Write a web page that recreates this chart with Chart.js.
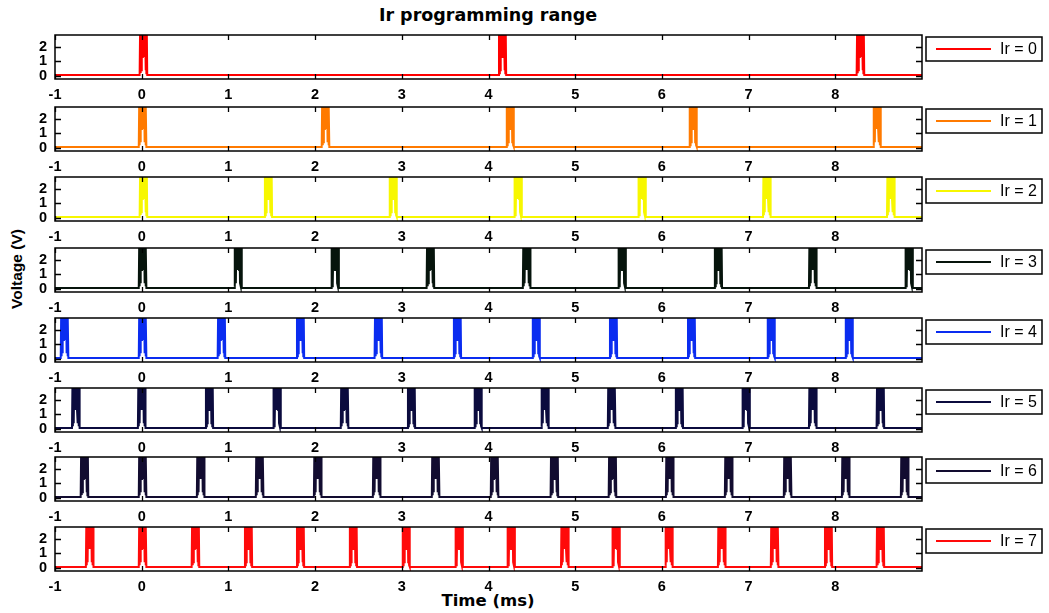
<!DOCTYPE html>
<html>
<head>
<meta charset="utf-8">
<script src="https://cdn.jsdelivr.net/npm/chart.js@4.4.1/dist/chart.umd.min.js"></script>
<style>
  body { margin: 0; background: #fff; }
  #page { position: relative; width: 1049px; height: 613px; overflow: hidden; background: #fff; }
  .panel { position: absolute; left: 0; }
  #title { position: absolute; left: 0; width: 976px; top: 5px; text-align: center;
    font: bold 17.5px "DejaVu Sans", sans-serif; color: #000; }
  #xlab { position: absolute; left: 0; width: 976px; top: 591px; text-align: center;
    font: bold 16.5px "DejaVu Sans", sans-serif; color: #000; }
  #ylab { position: absolute; left: 17px; top: 269px; transform: translate(-50%, -50%) rotate(-90deg);
    font: bold 15.5px "Liberation Sans", Arial, sans-serif; color: #000; white-space: nowrap; }
</style>
</head>
<body>
<div id="page">
  <div id="title">Ir programming range</div>
  <div id="ylab">Voltage (V)</div>
  <div id="xlab">Time (ms)</div>
</div>
<script>
// axis ticks
const xTicks = [-1, 0, 1, 2, 3, 4, 5, 6, 7, 8];
const yTicks = [0, 1, 2];

// series names and colours
const seriesNames = ['Ir = 0', 'Ir = 1', 'Ir = 2', 'Ir = 3', 'Ir = 4', 'Ir = 5', 'Ir = 6', 'Ir = 7'];
const seriesColors = ['#ff0000', '#ff7a00', '#f7f700', '#06140c', '#0a2cf0', '#0b0b3e', '#120c30', '#ff0a0a'];

// pulse centre times (ms)
const pulsesIr0 = [0.02, 4.16, 8.29];
const pulsesIr1 = [0.01, 2.12, 4.25, 6.36, 8.48];
const pulsesIr2 = [0.02, 1.46, 2.90, 4.34, 5.77, 7.21, 8.64];
const pulsesIr3 = [0.01, 1.11, 2.23, 3.33, 4.44, 5.54, 6.65, 7.74, 8.85];
const pulsesIr4 = [-0.89, 0.01, 0.92, 1.83, 2.73, 3.64, 4.55, 5.44, 6.34, 7.26, 8.16];
const pulsesIr5 = [-0.76, 0.00, 0.78, 1.56, 2.34, 3.11, 3.88, 4.65, 5.42, 6.20, 6.97, 7.74, 8.52];
const pulsesIr6 = [-0.66, 0.01, 0.68, 1.36, 2.03, 2.71, 3.39, 4.07, 4.76, 5.43, 6.09, 6.77, 7.45, 8.12, 8.80];
const pulsesIr7 = [-0.60, 0.01, 0.62, 1.23, 1.83, 2.44, 3.05, 3.66, 4.26, 4.88, 5.47, 6.08, 6.69, 7.30, 7.92, 8.52];
const allPulses = [pulsesIr0, pulsesIr1, pulsesIr2, pulsesIr3, pulsesIr4, pulsesIr5, pulsesIr6, pulsesIr7];

// shape of one pulse: time offset from centre (ms) and voltage (V)
const pulseOffsets = [-0.044, -0.039, -0.034, -0.029, -0.024, -0.019, -0.014, -0.007, 0, 0.007, 0.014, 0.019, 0.024, 0.029, 0.034, 0.039, 0.044];
const pulseVolts = [0.08, 2.9, 0.2, 2.9, 0.4, 2.9, 1.3, 2.9, 1.3, 2.9, 1.3, 2.9, 0.4, 2.9, 0.2, 2.9, 0.08];
const baselineVolt = 0.08;

// layout of the stacked panels
const panelTops = [35, 107, 177, 248, 318, 388, 457, 527];
const panelHeight = 44;

function buildTrace(centres) {
  const pts = [{ x: -1, y: baselineVolt }];
  centres.forEach(c => {
    pulseOffsets.forEach((o, k) => pts.push({ x: c + o, y: pulseVolts[k] }));
  });
  pts.push({ x: 9, y: baselineVolt });
  return pts;
}

// box with inward ticks on all four sides
const framePlugin = {
  id: 'frame',
  afterDraw(chart) {
    const { ctx, chartArea: a, scales } = chart;
    ctx.save();
    ctx.strokeStyle = '#000';
    ctx.lineWidth = 1.5;
    ctx.strokeRect(a.left, a.top, a.right - a.left, a.bottom - a.top);
    ctx.lineWidth = 1.3;
    ctx.beginPath();
    xTicks.forEach(v => {
      const px = Math.round(scales.x.getPixelForValue(v)) + 0.5;
      ctx.moveTo(px, a.bottom); ctx.lineTo(px, a.bottom - 5);
      ctx.moveTo(px, a.top); ctx.lineTo(px, a.top + 5);
    });
    yTicks.forEach(v => {
      const py = Math.round(scales.y.getPixelForValue(v)) + 0.5;
      ctx.moveTo(a.left, py); ctx.lineTo(a.left + 6, py);
      ctx.moveTo(a.right, py); ctx.lineTo(a.right - 6, py);
    });
    ctx.stroke();
    ctx.restore();
  }
};

// matlab-like legend box to the right of each panel
const boxLegendPlugin = {
  id: 'boxLegend',
  afterDraw(chart) {
    const { ctx, chartArea: a } = chart;
    const ds = chart.data.datasets[0];
    const x = a.right + 4, y = a.top + 2, w = 116, h = 24;
    ctx.save();
    ctx.fillStyle = '#fff';
    ctx.fillRect(x, y, w, h);
    ctx.strokeStyle = '#000';
    ctx.lineWidth = 1.5;
    ctx.strokeRect(x, y, w, h);
    ctx.strokeStyle = ds.borderColor;
    ctx.lineWidth = 2;
    ctx.beginPath();
    ctx.moveTo(x + 10, y + h / 2);
    ctx.lineTo(x + 65, y + h / 2);
    ctx.stroke();
    ctx.fillStyle = '#000';
    ctx.font = '16px "Liberation Sans", Arial, sans-serif';
    ctx.textAlign = 'right';
    ctx.textBaseline = 'middle';
    ctx.fillText(ds.label, x + w - 5, y + h / 2 + 1);
    ctx.restore();
  }
};

const tickFont = { family: '"Liberation Sans", Arial, sans-serif', size: 14.5, weight: 'bold' };
const page = document.getElementById('page');

seriesNames.forEach((name, i) => {
  const canvas = document.createElement('canvas');
  canvas.className = 'panel';
  canvas.width = 1049;
  canvas.height = panelHeight + 25;
  canvas.style.top = (panelTops[i] - 3) + 'px';
  page.appendChild(canvas);

  new Chart(canvas.getContext('2d'), {
    type: 'line',
    data: {
      datasets: [{
        label: name,
        data: buildTrace(allPulses[i]),
        borderColor: seriesColors[i],
        borderWidth: 2,
        pointRadius: 0,
        tension: 0,
        fill: false
      }]
    },
    options: {
      responsive: false,
      animation: false,
      devicePixelRatio: 1,
      layout: { padding: { top: 3, left: 35, right: 127, bottom: 0 } },
      plugins: {
        legend: { display: false },
        tooltip: { enabled: false }
      },
      scales: {
        x: {
          type: 'linear',
          min: -1,
          max: 9,
          afterBuildTicks: s => { s.ticks = xTicks.map(v => ({ value: v })); },
          afterFit: s => { s.height = 22; s.paddingLeft = 0; s.paddingRight = 0; },
          grid: { display: false, drawTicks: false },
          border: { display: false },
          ticks: { font: tickFont, color: '#000', padding: 7, maxRotation: 0, autoSkip: false }
        },
        y: {
          type: 'linear',
          min: -0.2,
          max: 2.8,
          afterBuildTicks: s => { s.ticks = yTicks.map(v => ({ value: v })); },
          afterFit: s => { s.width = 20; s.paddingTop = 0; s.paddingBottom = 0; },
          grid: { display: false, drawTicks: false },
          border: { display: false },
          ticks: { font: tickFont, color: '#000', padding: 8, autoSkip: false }
        }
      }
    },
    plugins: [framePlugin, boxLegendPlugin]
  });
});
</script>
</body>
</html>
